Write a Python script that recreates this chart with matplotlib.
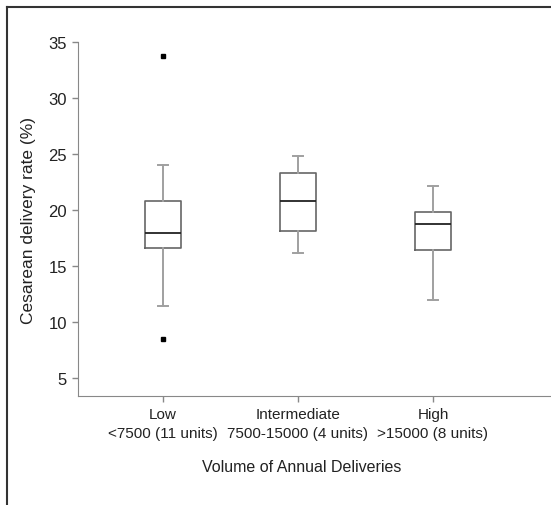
import numpy as np
import matplotlib
matplotlib.use('Agg')
import matplotlib.pyplot as plt
from matplotlib.lines import Line2D

# values (Cesarean delivery rate, %)
groups = ["Low\n<7500 (11 units)", "Intermediate\n7500-15000 (4 units)", "High\n>15000 (8 units)"]
whislo = [11.4, 16.2, 12.0]
q1 = [16.6, 18.1, 16.4]
med = [18.0, 20.8, 18.8]
q3 = [20.8, 23.3, 19.8]
whishi = [24.0, 24.8, 22.2]
fliers = [[33.8, 8.5], [], []]

plt.rcParams['font.family'] = ['Liberation Sans', 'DejaVu Sans']

fig = plt.figure(figsize=(5.51, 5.06), dpi=100)
ax = fig.add_axes([77.5/551, 1-397/506, 1-77.5/551, (397-43.3)/506])

stats = []
for i in range(len(groups)):
    stats.append(dict(label=groups[i], whislo=whislo[i], q1=q1[i], med=med[i],
                      q3=q3[i], whishi=whishi[i], fliers=fliers[i]))

ax.bxp(stats, positions=[1, 2, 3], widths=0.265, showfliers=True,
       boxprops=dict(color='#666666', linewidth=1.2),
       medianprops=dict(color='#222222', linewidth=1.3),
       whiskerprops=dict(color='#a0a0a0', linewidth=1.4),
       capprops=dict(color='#a0a0a0', linewidth=1.4),
       capwidths=0.075,
       flierprops=dict(marker='s', markersize=3, markerfacecolor='black',
                       markeredgecolor='black'))

ax.set_xlim(0.367, 3.874)
ax.set_ylim(3.4, 35)
ax.set_yticks([5, 10, 15, 20, 25, 30, 35])

for s in ['top', 'right']:
    ax.spines[s].set_visible(False)
ax.spines['left'].set_color('#888888')
ax.spines['bottom'].set_color('#888888')
ax.tick_params(axis='both', colors='#888888', length=4, width=1, labelsize=12,
               labelcolor='#222222')
ax.tick_params(axis='x', pad=4, labelsize=11)
for lab in ax.get_xticklabels():
    lab.set_linespacing(1.45)

ax.set_ylabel("Cesarean delivery rate (%)", fontsize=12.5, color='#222222')
ax.yaxis.set_label_coords(-(77.5-29)/473.5, 0.5)
ax.yaxis.label.set_va('center')
ax.set_xlabel("Volume of Annual Deliveries", fontsize=11.5, color='#222222')
ax.xaxis.set_label_coords((302-77.5)/(551-77.5), -(467-397)/353.7)
ax.xaxis.label.set_va('center')

# partial outer frame (top and left edges)
fig.add_artist(Line2D([7/551, 1], [1-8/506, 1-8/506], color='#333333', linewidth=1.5))
fig.add_artist(Line2D([7/551, 7/551], [0, 1-8/506], color='#333333', linewidth=1.5))

fig.savefig("out.png", dpi=100)
